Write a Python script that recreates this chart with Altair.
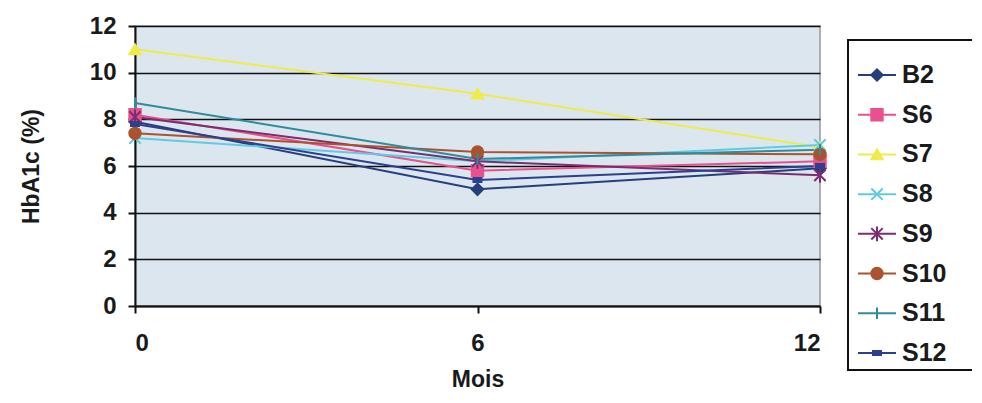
import altair as alt
import pandas as pd

months = [0, 6, 12]
series = ["B2", "S6", "S7", "S8", "S9", "S10", "S11", "S12"]
B2 = [7.9, 5.0, 5.9]
S6 = [8.2, 5.8, 6.2]
S7 = [11.0, 9.1, 6.8]
S8 = [7.2, 6.2, 6.9]
S9 = [8.1, 6.2, 5.6]
S10 = [7.4, 6.6, 6.5]
S11 = [8.7, 6.3, 6.7]
S12 = [7.8, 5.4, 6.0]
values = [B2, S6, S7, S8, S9, S10, S11, S12]

colors = ["#263f7c", "#e8508f", "#eeec4a", "#5fcbe0", "#7b2d6e", "#a9532f", "#2e8c9c", "#2d3f8f"]
shapes = [
    "diamond",
    "square",
    "triangle-up",
    "M-1,-1L1,1M-1,1L1,-1",
    "M-1,-1L1,1M-1,1L1,-1M0,-1.3L0,1.3",
    "circle",
    "M0,-1L0,1",
    "M-0.7,-0.35L0.7,-0.35L0.7,0.35L-0.7,0.35Z",
]

rows = []
for i, (name, vals) in enumerate(zip(series, values)):
    for m, v in zip(months, vals):
        rows.append({"series": name, "mois": m, "hba1c": v, "order": i})
df = pd.DataFrame(rows)
leg_df = pd.DataFrame({"series": series, "idx": list(range(len(series)))})
box_df = pd.DataFrame({"k": [0]})

FONT = "Liberation Sans"
color_scale = alt.Scale(domain=series, range=colors)
shape_scale = alt.Scale(domain=series, range=shapes)

axis_style = dict(
    labelFont=FONT, labelFontSize=24, labelFontWeight="bold", labelColor="#1a1a1a",
    titleFont=FONT, titleFontSize=23, titleFontWeight="bold", titleColor="#1a1a1a",
    domainColor="#111", domainWidth=2, tickColor="#111", tickWidth=2, tickSize=7,
)

x_enc = alt.X(
    "mois:Q",
    scale=alt.Scale(domain=[0, 12], nice=False),
    axis=alt.Axis(values=months, format="d", title="Mois", grid=False,
                  labelPadding=18, titlePadding=13, **axis_style),
)
y_enc = alt.Y(
    "hba1c:Q",
    scale=alt.Scale(domain=[0, 12], nice=False),
    axis=alt.Axis(values=[0, 2, 4, 6, 8, 10, 12], format="d", title="HbA1c (%)", grid=True,
                  gridColor="#111", gridWidth=1.6, labelPadding=12, titlePadding=46, **axis_style),
)

base = alt.Chart(df)
lines = base.mark_line(strokeWidth=2).encode(
    x=x_enc, y=y_enc,
    color=alt.Color("series:N", scale=color_scale, legend=None),
    detail="series:N",
    order="order:Q",
)
points = base.mark_point(filled=True, size=130, strokeWidth=2, opacity=1).encode(
    x=x_enc, y=y_enc,
    color=alt.Color("series:N", scale=color_scale, legend=None),
    stroke=alt.Stroke("series:N", scale=color_scale, legend=None),
    shape=alt.Shape("series:N", scale=shape_scale, legend=None),
)
main = alt.layer(lines, points)

box = alt.Chart(box_df).mark_rect(fill="white", stroke="#111", strokeWidth=2).encode(
    x=alt.value(713), x2=alt.value(838), y=alt.value(14), y2=alt.value(344)
)
leg_y = alt.Y("idx:Q", scale=alt.Scale(domain=[0, 7], range=[49, 327], nice=False, zero=False), axis=None)
leg_line = alt.Chart(leg_df).mark_rule(strokeWidth=2).encode(
    x=alt.value(723), x2=alt.value(761), y=leg_y,
    color=alt.Color("series:N", scale=color_scale, legend=None),
)
leg_pt = alt.Chart(leg_df).mark_point(filled=True, size=130, strokeWidth=2, opacity=1).encode(
    x=alt.value(742), y=leg_y,
    color=alt.Color("series:N", scale=color_scale, legend=None),
    stroke=alt.Stroke("series:N", scale=color_scale, legend=None),
    shape=alt.Shape("series:N", scale=shape_scale, legend=None),
)
leg_txt = alt.Chart(leg_df).mark_text(align="left", baseline="middle", font=FONT, fontSize=25,
                                      fontWeight="bold", color="#1a1a1a").encode(
    x=alt.value(767), y=leg_y, text="series:N"
)
legend = alt.layer(box, leg_line, leg_pt, leg_txt)

chart = alt.layer(main, legend).resolve_scale(y="independent").properties(
    width=685, height=280,
    background="white",
    autosize=alt.AutoSizeParams(type="none"),
    padding={"left": 127, "top": 18, "right": 152, "bottom": 89},
).configure_view(fill="#dce6ef", stroke="#999", strokeWidth=1.5)

chart.save("out.html", embed_options={"renderer": "svg", "actions": False})
